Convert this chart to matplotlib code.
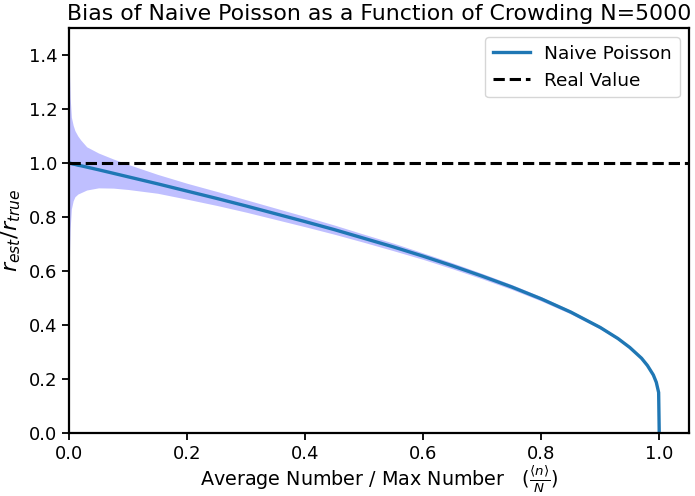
import matplotlib
matplotlib.use('Agg')
import matplotlib.pyplot as plt
import numpy as np

# valores (fracción <n>/N)
frac = [0.0, 0.0005, 0.001, 0.002, 0.004, 0.007, 0.01, 0.015, 0.02, 0.03,
        0.05, 0.075, 0.1, 0.15, 0.2, 0.25, 0.3, 0.35, 0.4, 0.45, 0.5, 0.55,
        0.6, 0.65, 0.7, 0.75, 0.8, 0.85, 0.9, 0.93, 0.95, 0.97, 0.98, 0.99,
        0.995, 0.999, 1.0]
ratio = [1.0, 1.0, 0.999, 0.999, 0.998, 0.996, 0.995, 0.992, 0.990, 0.985,
         0.975, 0.962, 0.949, 0.923, 0.896, 0.869, 0.841, 0.812, 0.783, 0.753,
         0.721, 0.689, 0.655, 0.619, 0.581, 0.541, 0.497, 0.448, 0.391, 0.350,
         0.317, 0.277, 0.250, 0.215, 0.188, 0.150, 0.0]
upper = [1.46, 1.40, 1.32, 1.24, 1.17, 1.14, 1.12, 1.10, 1.085, 1.06,
         1.037, 1.015, 0.995, 0.958, 0.925, 0.895, 0.864, 0.833, 0.802, 0.770,
         0.736, 0.703, 0.667, 0.630, 0.591, 0.550, 0.505, 0.455, 0.397, 0.355,
         0.321, 0.280, 0.253, 0.218, 0.190, 0.152, 0.0]
lower = [0.54, 0.60, 0.68, 0.76, 0.83, 0.86, 0.875, 0.885, 0.89, 0.90,
         0.908, 0.907, 0.902, 0.888, 0.866, 0.843, 0.818, 0.791, 0.764, 0.736,
         0.706, 0.675, 0.643, 0.608, 0.571, 0.532, 0.489, 0.441, 0.385, 0.345,
         0.313, 0.274, 0.247, 0.212, 0.186, 0.148, 0.0]

fig = plt.figure(figsize=(6.95, 4.96), dpi=100)
ax = fig.add_axes([0.0993, 0.127, 0.8917, 0.8165])

ax.fill_between(frac, lower, upper, color='blue', alpha=0.25, lw=0)
ax.plot(frac, ratio, color='#1f77b4', lw=2.4, label='Naive Poisson')
ax.axhline(1.0, color='black', ls='--', lw=2.2, label='Real Value')

ax.set_xlim(0, 1.05)
ax.set_ylim(0, 1.5)
ax.set_xticks(np.arange(0, 1.01, 0.2))
ax.set_yticks(np.arange(0, 1.41, 0.2))
ax.tick_params(labelsize=13, width=1.3, length=5)
for s in ax.spines.values():
    s.set_linewidth(1.6)

ax.set_title('Bias of Naive Poisson as a Function of Crowding N=5000', fontsize=15.8)
ax.set_xlabel(r'Average Number / Max Number   $(\frac{\langle n\rangle}{N})$',
              fontsize=13.8, labelpad=1)
ax.set_ylabel(r'$r_{est}/r_{true}$', fontsize=16)
ax.legend(loc='upper right', fontsize=13.3)

fig.savefig('out.png', dpi=100)
